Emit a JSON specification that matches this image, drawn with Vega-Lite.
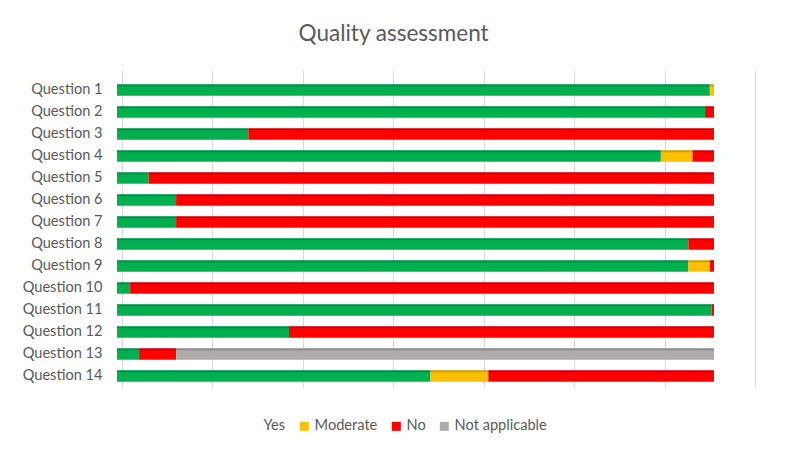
{
  "$schema": "https://vega.github.io/schema/vega-lite/v6.json",
  "width": 640,
  "height": 317,
  "autosize": {"type": "none"},
  "padding": {"left": 117, "top": 70, "right": 32, "bottom": 66},
  "background": "white",
  "title": {
    "text": "Quality assessment",
    "anchor": "middle",
    "frame": "bounds",
    "offset": 25,
    "dx": 4,
    "font": "Lato",
    "fontSize": 22.5,
    "fontWeight": "normal",
    "color": "#595959"
  },
  "data": {
    "values": [
      {"question": "Question 1", "category": "Yes", "rank": 1, "value": 99.3},
      {"question": "Question 1", "category": "Moderate", "rank": 2, "value": 0.7},
      {"question": "Question 2", "category": "Yes", "rank": 1, "value": 98.5},
      {"question": "Question 2", "category": "No", "rank": 3, "value": 1.5},
      {"question": "Question 3", "category": "Yes", "rank": 1, "value": 22.0},
      {"question": "Question 3", "category": "No", "rank": 3, "value": 78.0},
      {"question": "Question 4", "category": "Yes", "rank": 1, "value": 91.1},
      {"question": "Question 4", "category": "Moderate", "rank": 2, "value": 5.3},
      {"question": "Question 4", "category": "No", "rank": 3, "value": 3.6},
      {"question": "Question 5", "category": "Yes", "rank": 1, "value": 5.3},
      {"question": "Question 5", "category": "No", "rank": 3, "value": 94.7},
      {"question": "Question 6", "category": "Yes", "rank": 1, "value": 9.9},
      {"question": "Question 6", "category": "No", "rank": 3, "value": 90.1},
      {"question": "Question 7", "category": "Yes", "rank": 1, "value": 9.9},
      {"question": "Question 7", "category": "No", "rank": 3, "value": 90.1},
      {"question": "Question 8", "category": "Yes", "rank": 1, "value": 95.7},
      {"question": "Question 8", "category": "No", "rank": 3, "value": 4.3},
      {"question": "Question 9", "category": "Yes", "rank": 1, "value": 95.7},
      {"question": "Question 9", "category": "Moderate", "rank": 2, "value": 3.6},
      {"question": "Question 9", "category": "No", "rank": 3, "value": 0.7},
      {"question": "Question 10", "category": "Yes", "rank": 1, "value": 2.2},
      {"question": "Question 10", "category": "No", "rank": 3, "value": 97.8},
      {"question": "Question 11", "category": "Yes", "rank": 1, "value": 99.6},
      {"question": "Question 11", "category": "No", "rank": 3, "value": 0.4},
      {"question": "Question 12", "category": "Yes", "rank": 1, "value": 28.8},
      {"question": "Question 12", "category": "No", "rank": 3, "value": 71.2},
      {"question": "Question 13", "category": "Yes", "rank": 1, "value": 3.7},
      {"question": "Question 13", "category": "No", "rank": 3, "value": 6.2},
      {"question": "Question 13", "category": "Not applicable", "rank": 4, "value": 90.1},
      {"question": "Question 14", "category": "Yes", "rank": 1, "value": 52.5},
      {"question": "Question 14", "category": "Moderate", "rank": 2, "value": 9.7},
      {"question": "Question 14", "category": "No", "rank": 3, "value": 37.8}
    ]
  },
  "encoding": {
    "y": {
      "field": "question",
      "type": "nominal",
      "sort": null,
      "title": null,
      "scale": {"paddingInner": 0.48, "paddingOuter": 0.44455, "align": 0.73, "round": false},
      "axis": {
        "domain": false,
        "ticks": false,
        "grid": false,
        "labelPadding": 15,
        "labelFont": "Lato",
        "labelFontSize": 14.6,
        "labelColor": "#595959"
      }
    }
  },
  "layer": [
    {
      "mark": {"type": "bar"},
      "encoding": {
        "x": {
          "field": "value",
          "type": "quantitative",
          "stack": "zero",
          "title": null,
          "scale": {"domain": [0, 107.2], "nice": false, "zero": true},
          "axis": {
            "values": [0.84, 15.99, 31.14, 46.29, 61.44, 76.59, 91.74, 106.89],
            "labels": false,
            "ticks": false,
            "domain": false,
            "grid": true,
            "gridColor": "#D9D9D9",
            "gridWidth": 1
          }
        },
        "order": {"field": "rank", "type": "quantitative", "sort": "ascending"},
        "color": {
          "field": "category",
          "type": "nominal",
          "scale": {
            "domain": ["Yes", "Moderate", "No", "Not applicable"],
            "range": ["#00B050", "#FFC000", "#FF0000", "#AEAAAA"]
          },
          "legend": {
            "title": null,
            "orient": "none",
            "legendX": 129,
            "legendY": 349,
            "direction": "horizontal",
            "symbolType": "square",
            "symbolSize": 81,
            "symbolStrokeWidth": 0,
            "labelFont": "Lato",
            "labelFontSize": 14.6,
            "labelColor": "#595959",
            "labelOffset": 3,
            "columnPadding": 11,
            "values": ["Yes", "Moderate", "No", "Not applicable"],
            "encode": {
              "symbols": {
                "update": {
                  "opacity": {"signal": "datum.value === 'Yes' ? 0 : 1"}
                }
              }
            }
          }
        }
      }
    },
    {
      "mark": {"type": "bar", "color": "black", "opacity": 0.18, "height": 2, "yOffset": -4.7},
      "encoding": {
        "x": {"aggregate": "sum", "field": "value", "type": "quantitative"}
      }
    }
  ],
  "config": {
    "view": {"stroke": null}
  }
}
